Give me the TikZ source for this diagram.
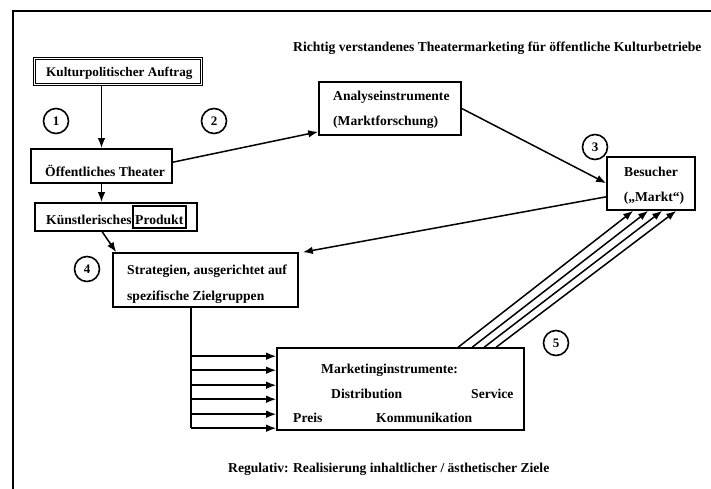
\documentclass[tikz,border=0pt]{standalone}
\usepackage{fontspec}
\setmainfont{Liberation Serif}
\usetikzlibrary{arrows.meta,calc}
\begin{document}
\begin{tikzpicture}[x=1pt,y=-1pt,
  every node/.style={font=\fontsize{13.6}{16}\selectfont\bfseries},
  box/.style={draw, line width=1.6pt, inner sep=0pt},
  txt/.style={inner sep=0pt, anchor=base west},
  num/.style={draw, circle, line width=1.6pt, minimum size=25pt, inner sep=0pt, font=\fontsize{13}{15}\selectfont\bfseries},
  arr/.style={line width=1.5pt, -{Latex[length=10pt,width=7.5pt]}},
  ln/.style={line width=1.5pt}]
\useasboundingbox (0,0) rectangle (711,489);
\draw[line width=1.7pt] (13,489) -- (13,11) -- (711,11);

% boxes
\node[box, double, double distance=1.1pt, line width=1.2pt, minimum width=167, minimum height=26] (kult) at (118,71.5) {};
\node[box, minimum width=141, minimum height=34] (oet) at (101.5,166) {};
\node[box, minimum width=162, minimum height=28] (kue) at (116,217) {};
\node[box, line width=1.2pt, minimum width=53, minimum height=22] (prod) at (159.5,217) {};
\node[box, minimum width=185, minimum height=54] (str) at (205.5,280) {};
\node[box, minimum width=142, minimum height=53] (ana) at (390,108.5) {};
\node[box, minimum width=88, minimum height=53] (bes) at (651,183.5) {};
\node[box, minimum width=247, minimum height=82] (mk) at (400.5,389) {};

% texts
\node[txt] (title) at (293,52) {Richtig verstandenes Theatermarketing für öffentliche Kulturbetriebe};
\node[txt, font=\fontsize{13.2}{16}\selectfont\bfseries] (tkult) at (46,77) {Kulturpolitischer Auftrag};
\node[txt] (toet) at (45,176) {Öffentliches Theater};
\node[txt] (tkue) at (46,224) {Künstlerisches};
\node[txt] (tprod) at (135,224) {Produkt};
\node[txt] (tstr1) at (127,274) {Strategien, ausgerichtet auf};
\node[txt] (tstr2) at (127,300) {spezifische Zielgruppen};
\node[txt] (tana1) at (333,101) {Analyseinstrumente};
\node[txt] (tana2) at (333,126) {(Marktforschung)};
\node[txt, anchor=base] (tbes1) at (651,176) {Besucher};
\node[txt, anchor=base] (tbes2) at (654,201) {(„Markt“)};
\node[txt] (tmk) at (321,373) {Marketinginstrumente:};
\node[txt] (tdis) at (331,398) {Distribution};
\node[txt] (tser) at (471,398) {Service};
\node[txt] (tpre) at (293,422) {Preis};
\node[txt] (tkom) at (376,422) {Kommunikation};
\node[txt] (treg) at (228,472) {Regulativ: Realisierung inhaltlicher / ästhetischer Ziele};

% numbers
\node[num] (n1) at (56,121) {1};
\node[num] (n2) at (214,121) {2};
\node[num] (n3) at (595,147) {3};
\node[num] (n4) at (87,269) {4};
\node[num] (n5) at (556,343) {5};

% connectors
\draw[arr] (kult.south -| oet.north) -- (oet.north);
\draw[arr] (oet.south) -- (oet.south |- kue.north);
\draw[arr] ($(kue.south west)+(68,0)$) -- ($(str.north west)+(4,0)$);
\draw[arr] ($(oet.north east)+(0,14)$) -- ($(ana.south west)+(0,-4)$);
\draw[arr] (ana.east) -- ($(bes.north west)+(0,27)$);
\draw[arr] ($(bes.south west)+(0,-14)$) -- ($(str.north east)+(4,0)$);

\coordinate (ctop) at ($(str.south west)+(79,0)$);
\coordinate (cbot) at ($(mk.north west)+(0,81)$);
\draw[ln] (ctop) -- (ctop |- cbot);
\foreach \dy in {9,23,38,52,67,81}{
  \coordinate (t) at ($(mk.north west)+(0,\dy)$);
  \draw[arr] (ctop |- t) -- (t);
}
\foreach \a/\b in {182/27,196/42,208/56,220/70}{
  \draw[arr] ($(mk.north west)+(\a,0)$) -- ($(bes.south west)+(\b,0)$);
}
\end{tikzpicture}
\end{document}
